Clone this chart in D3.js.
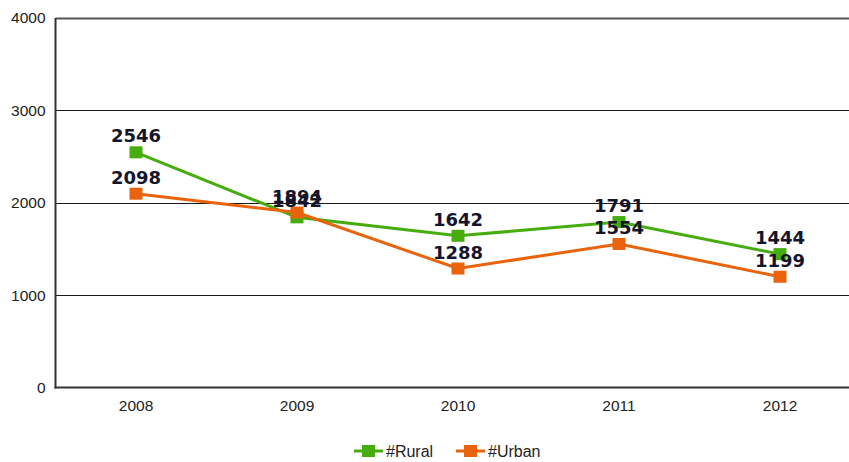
<!DOCTYPE html>
<html>
<head>
<meta charset="utf-8">
<script src="https://cdn.jsdelivr.net/npm/d3@7/dist/d3.min.js"></script>
<style>
  html, body { margin: 0; padding: 0; background: #fff; }
  svg { display: block; }
</style>
</head>
<body>
<svg id="chart" width="849" height="462"></svg>
<script>
// Yearly counts, rural vs urban
const years = ["2008", "2009", "2010", "2011", "2012"];
const rural = [2546, 1842, 1642, 1791, 1444];
const urban = [2098, 1894, 1288, 1554, 1199];
const yTicks = [0, 1000, 2000, 3000, 4000];
const seriesNames = ["#Rural", "#Urban"];
const seriesColors = ["#47ad0f", "#e8630c"];

const svg = d3.select("#chart");
const plotLeft = 55.5, plotTop = 18, plotBottom = 387.5;
const step = 161;

const x = d3.scaleBand().domain(years).range([plotLeft, plotLeft + step * years.length]);
const y = d3.scaleLinear().domain([0, 4000]).range([plotBottom, plotTop]);
const cx = d => x(d) + x.bandwidth() / 2;

// horizontal gridlines
svg.append("g").selectAll("line")
  .data(yTicks.filter(t => t > 0))
  .join("line")
  .attr("x1", plotLeft).attr("x2", 849)
  .attr("y1", d => Math.round(y(d)) + 0.5).attr("y2", d => Math.round(y(d)) + 0.5)
  .attr("stroke", d => d === 4000 ? "#555" : "#1a1a1a")
  .attr("stroke-width", d => d === 4000 ? 2 : 1.2);

// y axis labels
const yAxis = d3.axisLeft(y).tickValues(yTicks).tickSize(0).tickPadding(10).tickFormat(d3.format("d"));
const gy = svg.append("g").attr("transform", `translate(${plotLeft},0)`).call(yAxis);
gy.select(".domain").remove();
gy.selectAll("text")
  .attr("font-family", "Liberation Sans, Arial, sans-serif")
  .attr("font-size", 15.5).attr("fill", "#222");

// x axis labels
const xAxis = d3.axisBottom(x).tickSize(0).tickPadding(12);
const gx = svg.append("g").attr("transform", `translate(0,${plotBottom})`).call(xAxis);
gx.select(".domain").remove();
gx.selectAll("text")
  .attr("font-family", "Liberation Sans, Arial, sans-serif")
  .attr("font-size", 15.5).attr("fill", "#222");

// frame: left and bottom axis lines
svg.append("line").attr("x1", plotLeft).attr("x2", plotLeft).attr("y1", plotTop).attr("y2", plotBottom + 1)
  .attr("stroke", "#333").attr("stroke-width", 2);
svg.append("line").attr("x1", plotLeft - 1).attr("x2", 849).attr("y1", plotBottom).attr("y2", plotBottom)
  .attr("stroke", "#333").attr("stroke-width", 2);

const series = [rural, urban];
const line = d3.line().x((d, i) => cx(years[i])).y(d => y(d));

// lines and markers
series.forEach((vals, s) => {
  const g = svg.append("g");
  g.append("path").datum(vals).attr("d", line)
    .attr("fill", "none").attr("stroke", seriesColors[s]).attr("stroke-width", 3);
  g.selectAll("rect").data(vals).join("rect")
    .attr("x", (d, i) => cx(years[i]) - 6.5).attr("y", d => y(d) - 6)
    .attr("width", 13).attr("height", 12)
    .attr("fill", seriesColors[s]);
});

// value labels
series.forEach((vals) => {
  svg.append("g").selectAll("text").data(vals).join("text")
    .attr("x", (d, i) => cx(years[i]))
    .attr("y", d => y(d) - 10)
    .attr("text-anchor", "middle")
    .attr("font-family", "DejaVu Sans, Verdana, sans-serif")
    .attr("font-weight", "bold").attr("font-size", 18)
    .attr("fill", "#14142a")
    .text(d => d);
});

// legend
const legend = svg.append("g");
const legendX = [354, 456];
seriesNames.forEach((name, s) => {
  const g = legend.append("g").attr("transform", `translate(${legendX[s]},451)`);
  g.append("line").attr("x1", 0).attr("x2", 29).attr("y1", 0).attr("y2", 0)
    .attr("stroke", seriesColors[s]).attr("stroke-width", 3);
  g.append("rect").attr("x", 8).attr("y", -6).attr("width", 13).attr("height", 12)
    .attr("fill", seriesColors[s]);
  g.append("text").attr("x", 32).attr("y", 5.5)
    .attr("font-family", "Liberation Sans, Arial, sans-serif")
    .attr("font-size", 16).attr("fill", "#222")
    .text(name);
});
</script>
</body>
</html>
